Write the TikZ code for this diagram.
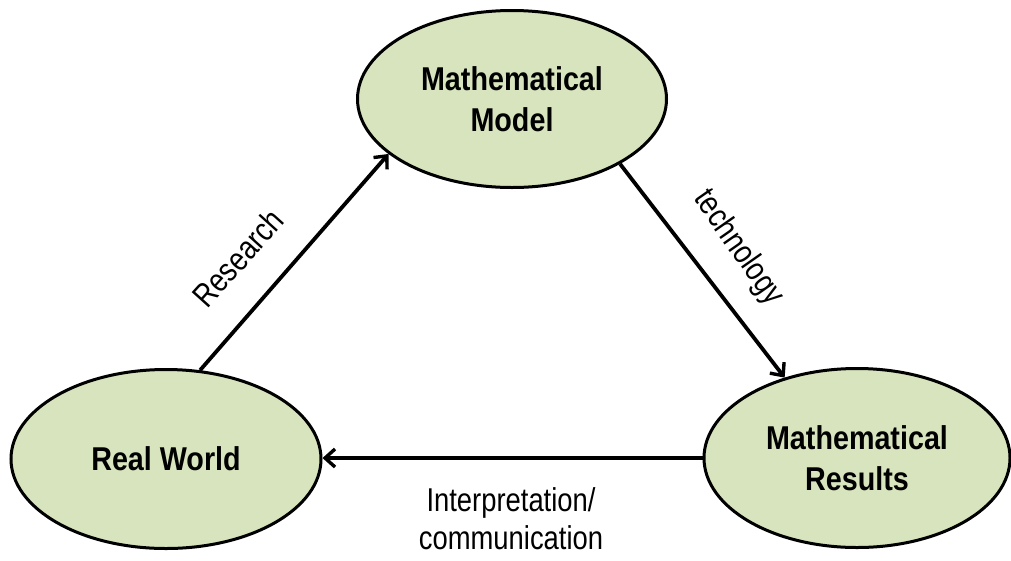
\documentclass[tikz,border=0pt]{standalone}
\usepackage{fontspec}
\setmainfont{Liberation Sans}
\newfontfamily\narrowfont{Liberation Sans}[FakeStretch=0.83]
\newfontfamily\narrowbold{Liberation Sans}[FakeStretch=0.87]
\usetikzlibrary{shapes.geometric,arrows.meta}
\definecolor{olivefill}{HTML}{D7E4BD}
\tikzset{
  stage/.style={ellipse, draw=black, line width=3pt, fill=olivefill, inner sep=0pt,
    font=\narrowbold\bfseries\fontsize{33}{41}\selectfont, align=center},
  flow/.style={line width=3.8pt, -{Straight Barb[length=10pt,width=18pt,line width=3.4pt]}},
  flowlabel/.style={font=\narrowfont\fontsize{33}{38}\selectfont, align=center, inner sep=0pt}
}
\begin{document}
\begin{tikzpicture}[x=1pt,y=-1pt]
\useasboundingbox (0,0) rectangle (1011,560);
\node[stage, minimum width=309pt, minimum height=177pt] (mm) at (512,99) {Mathematical\\Model};
\node[stage, minimum width=310pt, minimum height=179pt] (rw) at (166,459) {Real World};
\node[stage, minimum width=306pt, minimum height=179pt] (mr) at (857,458) {Mathematical\\Results};
\draw[flow] (rw.69) -- (mm.204);
\draw[flow] (mm.-31) -- (mr.132);
\draw[flow] (mr.west) -- (mr.west -| rw.east);
\node[flowlabel, rotate=48] (lres) at (238,258) {Research};
\node[flowlabel, rotate=-55] (ltech) at (738,248) {technology};
\node[flowlabel] (lint) at (511,519) {Interpretation/\\communication};
\end{tikzpicture}
\end{document}
